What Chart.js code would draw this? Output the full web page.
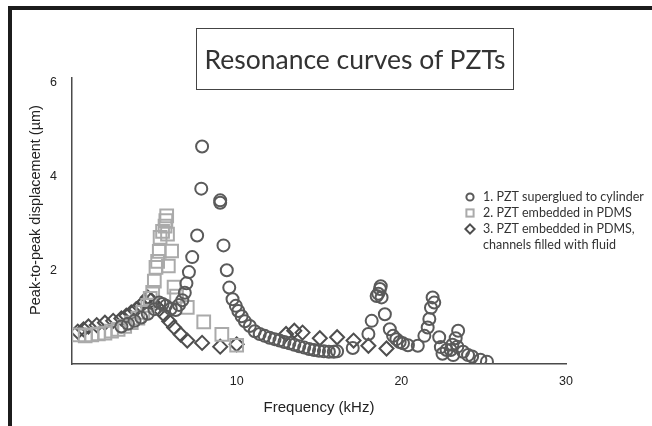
<!DOCTYPE html>
<html>
<head>
<meta charset="utf-8">
<script src="https://cdn.jsdelivr.net/npm/chart.js@4.4.1/dist/chart.umd.min.js"></script>
<style>
  html, body { margin: 0; padding: 0; background: #fff; }
  #wrap { position: relative; width: 652px; height: 426px; overflow: hidden; }
  #frame { position: absolute; left: 8px; top: 6px; right: -10px; bottom: -10px;
           border-top: 4px solid #1c1c1c; border-left: 4px solid #1c1c1c; }
  #title { position: absolute; left: 196px; top: 28px; width: 318px; height: 62px;
           border: 1.5px solid #444; box-sizing: border-box;
           font-family: Lato, sans-serif; font-size: 26.5px; color: #333;
           display: flex; align-items: center; justify-content: center; }
  canvas { position: absolute; left: 0; top: 0; }
</style>
</head>
<body>
<div id="wrap">
  <canvas id="resonance" width="652" height="426"></canvas>
  <div id="frame"></div>
  <div id="title">Resonance curves of PZTs</div>
</div>
<script>
// series 1: PZT superglued to cylinder (circles)
const gluedFreq = [3.0, 3.4, 3.8, 4.2, 4.6, 5.0, 5.3, 5.5, 5.7, 6.0, 6.3, 6.5, 6.7, 6.85, 6.95, 7.1, 7.3, 7.6, 7.85, 7.9,
  9.0, 9.0, 9.2, 9.4, 9.55, 9.75, 9.95, 10.1, 10.3, 10.5, 10.8, 11.1, 11.4, 11.7, 12.0, 12.3, 12.6, 12.9, 13.2, 13.5,
  13.8, 14.1, 14.4, 14.7, 15.0, 15.3, 15.6, 15.9, 16.1, 17.05, 18.0, 18.2, 18.5, 18.6, 18.7, 18.75, 18.8, 19.0, 19.3, 19.5,
  19.7, 19.9, 20.1, 20.4, 21.0, 21.4, 21.6, 21.7, 21.8, 21.9, 22.0, 22.3, 22.4, 22.5, 22.75, 23.0, 23.1, 23.15, 23.3, 23.4,
  23.45, 23.75, 24.05, 24.3, 24.8, 25.2];
const gluedDisp = [0.80, 0.86, 0.92, 0.99, 1.07, 1.17, 1.31, 1.28, 1.24, 1.18, 1.15, 1.26, 1.36, 1.52, 1.72, 1.96, 2.28, 2.74, 3.74, 4.64,
  3.49, 3.44, 2.53, 2.0, 1.63, 1.38, 1.24, 1.13, 1.02, 0.91, 0.81, 0.70, 0.64, 0.60, 0.56, 0.53, 0.50, 0.47, 0.44, 0.41,
  0.38, 0.35, 0.32, 0.30, 0.28, 0.27, 0.26, 0.26, 0.27, 0.34, 0.64, 0.92, 1.45, 1.50, 1.60, 1.66, 1.42, 1.06, 0.74, 0.60,
  0.53, 0.47, 0.44, 0.40, 0.39, 0.60, 0.78, 0.96, 1.20, 1.42, 1.31, 0.57, 0.36, 0.22, 0.30, 0.30, 0.41, 0.19, 0.55, 0.37,
  0.71, 0.26, 0.19, 0.16, 0.09, 0.05];

// series 2: PZT embedded in PDMS (squares)
const pdmsFreq = [0.4, 0.8, 1.2, 1.6, 2.0, 2.4, 2.8, 3.2, 3.6, 4.0, 4.3, 4.6, 4.75, 4.9, 5.0, 5.1, 5.2, 5.3, 5.35, 5.5,
  5.65, 5.7, 5.75, 5.8, 5.85, 6.05, 6.2, 6.35, 7.0, 8.0, 9.1, 10.0];
const pdmsDisp = [0.62, 0.60, 0.62, 0.64, 0.66, 0.70, 0.74, 0.80, 0.88, 0.98, 1.10, 1.25, 1.40, 1.53, 1.77, 2.06, 2.19, 2.40, 2.70, 2.83,
  2.94, 3.06, 3.16, 2.77, 2.09, 2.41, 1.64, 1.45, 1.21, 0.90, 0.63, 0.40];

// series 3: PZT embedded in PDMS, channels filled with fluid (diamonds)
const fluidFreq = [0.35, 0.7, 1.0, 1.5, 2.0, 2.5, 3.0, 3.3, 3.6, 3.9, 4.2, 4.4, 4.6, 4.8, 5.0, 5.3, 5.6, 5.9, 6.2, 6.6,
  7.0, 7.9, 9.0, 10.0, 13.0, 13.5, 14.0, 15.05, 16.1, 17.1, 18.0, 19.1];
const fluidDisp = [0.69, 0.74, 0.80, 0.83, 0.88, 0.92, 0.97, 1.03, 1.10, 1.17, 1.25, 1.33, 1.42, 1.36, 1.27, 1.17, 1.05, 0.91, 0.78, 0.63,
  0.50, 0.45, 0.37, 0.42, 0.64, 0.71, 0.67, 0.55, 0.57, 0.50, 0.39, 0.33];

const seriesNames = ['1. PZT superglued to cylinder', '2. PZT embedded in PDMS', '3. PZT embedded in PDMS,', 'channels filled with fluid'];
const xTicks = [10, 20, 30];
const yTicks = [2, 4, 6];
const yTitle = 'Peak-to-peak displacement (µm)';

const pairs = (xs, ys) => xs.map((x, i) => ({ x: x, y: ys[i] }));

// legend inside the plot and the y title (sits a bit above the axis middle)
const extrasPlugin = {
  id: 'extras',
  afterDraw(chart) {
    const ctx = chart.ctx;
    const mx = 470, tx = 483, rows = [197, 213, 229, 245];
    ctx.save();
    ctx.lineWidth = 2;
    ctx.strokeStyle = '#5a5a5a';
    ctx.beginPath(); ctx.arc(mx, rows[0], 3.6, 0, Math.PI * 2); ctx.stroke();
    ctx.strokeStyle = '#aaaaaa';
    ctx.strokeRect(mx - 3.6, rows[1] - 3.6, 7.2, 7.2);
    ctx.strokeStyle = '#4e4e4e';
    ctx.beginPath();
    ctx.moveTo(mx, rows[2] - 4.6); ctx.lineTo(mx + 4.6, rows[2]);
    ctx.lineTo(mx, rows[2] + 4.6); ctx.lineTo(mx - 4.6, rows[2]); ctx.closePath(); ctx.stroke();
    ctx.fillStyle = '#333';
    ctx.font = '12.5px Lato';
    ctx.textBaseline = 'middle';
    seriesNames.forEach((t, i) => ctx.fillText(t, tx, rows[i]));

    ctx.translate(36, 210);
    ctx.rotate(-Math.PI / 2);
    ctx.textAlign = 'center';
    ctx.fillStyle = '#222';
    ctx.font = '14.5px "Liberation Sans"';
    ctx.fillText(yTitle, 0, 0);
    ctx.restore();
  }
};

new Chart(
  document.getElementById('resonance'),
  {
    type: 'scatter',
    data: {
      datasets: [
        {
          label: seriesNames[0],
          data: pairs(gluedFreq, gluedDisp),
          pointStyle: 'circle',
          pointRadius: 6,
          borderWidth: 2,
          borderColor: '#5a5a5a',
          backgroundColor: 'rgba(0,0,0,0)'
        },
        {
          label: seriesNames[1],
          data: pairs(pdmsFreq, pdmsDisp),
          pointStyle: 'rect',
          pointRadius: 9,
          borderWidth: 2,
          borderColor: '#aaaaaa',
          backgroundColor: 'rgba(0,0,0,0)'
        },
        {
          label: seriesNames[2] + ' ' + seriesNames[3],
          data: pairs(fluidFreq, fluidDisp),
          pointStyle: 'rectRot',
          pointRadius: 7,
          borderWidth: 2,
          borderColor: '#4e4e4e',
          backgroundColor: 'rgba(0,0,0,0)'
        }
      ]
    },
    options: {
      responsive: false,
      animation: false,
      devicePixelRatio: 1,
      layout: { padding: { left: 0, top: 78, right: 86, bottom: 0 } },
      plugins: { legend: { display: false }, tooltip: { enabled: false } },
      scales: {
        x: {
          type: 'linear',
          min: 0,
          max: 30,
          afterBuildTicks: s => { s.ticks = xTicks.map(v => ({ value: v })); },
          afterFit: s => { s.height = 62; },
          grid: { display: false, drawTicks: false },
          border: { color: '#4a4a4a', width: 1.5 },
          ticks: { padding: 10, color: '#222', font: { family: 'Liberation Sans', size: 12.5 } },
          title: { display: true, text: 'Frequency (kHz)', color: '#222', padding: { top: 0, bottom: 9 },
                   font: { family: 'Liberation Sans', size: 15 } }
        },
        y: {
          min: 0,
          max: 6.1,
          afterBuildTicks: s => { s.ticks = yTicks.map(v => ({ value: v })); },
          afterFit: s => { s.width = 72; },
          grid: { display: false, drawTicks: false },
          border: { color: '#4a4a4a', width: 1.5 },
          ticks: { padding: 15, color: '#222', font: { family: 'Liberation Sans', size: 12.5 } }
        }
      }
    },
    plugins: [extrasPlugin]
  }
);
</script>
</body>
</html>
